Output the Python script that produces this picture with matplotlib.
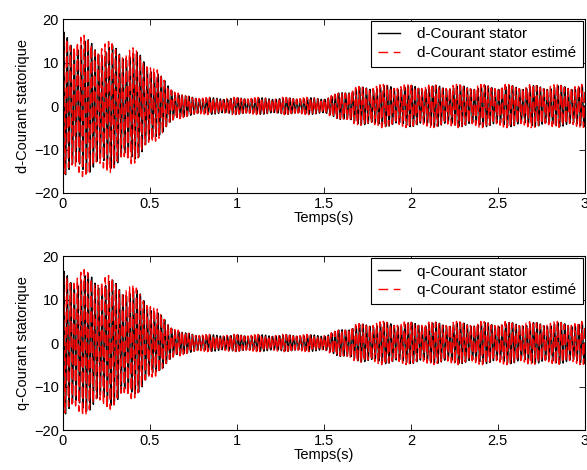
"""
Courants statoriques d-q : mesure et estimation (0 - 3 s).
"""

import matplotlib
matplotlib.use("Agg")
import matplotlib.pyplot as plt
import numpy as np

# Enveloppes (temps en s, amplitude crete en A)
env_time = [0.0, 0.05, 0.1, 0.2, 0.3, 0.4, 0.45, 0.5, 0.55, 0.6, 0.65,
            0.7, 0.8, 1.5, 1.55, 1.6, 1.7, 1.8, 3.0]
d_env_upper = [18.0, 17.0, 16.5, 15.5, 14.5, 13.5, 12.5, 10.5, 8.0, 5.5,
               3.5, 2.5, 2.0, 2.0, 2.5, 3.5, 4.5, 5.0, 5.0]
d_env_lower = [-17.0, -17.0, -16.5, -16.0, -15.0, -13.5, -12.0, -10.0, -7.5,
               -5.0, -3.5, -2.5, -2.0, -2.0, -2.5, -3.5, -4.5, -5.0, -5.0]
q_env_upper = [17.5, 17.0, 17.0, 16.5, 15.0, 13.5, 12.0, 10.0, 7.5, 5.0,
               3.5, 2.5, 2.0, 2.0, 2.5, 3.5, 4.5, 5.0, 5.0]
q_env_lower = [-17.5, -17.5, -17.0, -16.0, -15.0, -13.0, -11.5, -9.5, -7.0,
               -5.0, -3.5, -2.5, -2.0, -2.0, -2.5, -3.5, -4.5, -5.0, -5.0]

f_carrier = 50.0        # frequence statorique (Hz)
f_side = 57.0           # composante secondaire (battement)
side_ratio = 0.1        # part de la composante secondaire
est_phase = 0.9         # decalage de l'estimation (rad)
meas_scale = 0.95       # la mesure reste un peu sous l'estimation
dt = 1e-3               # pas d'echantillonnage de la simulation (s)

panels = [
    ("d", d_env_upper, d_env_lower),
    ("q", q_env_upper, q_env_lower),
]

x_ticks = [0, 0.5, 1, 1.5, 2, 2.5, 3]
y_ticks = [-20, -10, 0, 10, 20]

plt.rcParams["font.family"] = ["Liberation Sans", "DejaVu Sans"]
plt.rcParams["font.size"] = 10.5

t = np.arange(0.0, 3.0 + dt / 2, dt)

fig = plt.figure(figsize=(5.87, 4.70), dpi=100)
boxes = [[0.1073, 0.5894, 0.889, 0.370], [0.1073, 0.0851, 0.889, 0.370]]

for box, (axis_name, upper, lower) in zip(boxes, panels):
    ax = fig.add_axes(box)
    hi = np.interp(t, env_time, upper)
    lo = np.interp(t, env_time, lower)
    mid = 0.5 * (hi + lo)
    amp = 0.5 * (hi - lo)

    def wave(phase):
        main = (1 - side_ratio) * np.sin(2 * np.pi * f_carrier * t + phase)
        side = side_ratio * np.sin(2 * np.pi * f_side * t + 2 * phase)
        return main + side

    meas = mid + meas_scale * amp * wave(0.0)
    est = mid + amp * wave(est_phase)

    ax.plot(t, meas, color="black", lw=1.0, label=f"{axis_name}-Courant stator")
    ax.plot(t, est, color="red", lw=1.0, ls="--", dashes=(8, 3),
            label=f"{axis_name}-Courant stator estimé")

    ax.set_xlim(0, 3)
    ax.set_ylim(-20, 20)
    ax.set_xticks(x_ticks)
    ax.set_xticklabels(["0", "0.5", "1", "1.5", "2", "2.5", "3"])
    ax.set_yticks(y_ticks)
    ax.tick_params(direction="in", top=True, right=True, length=4,
                   width=0.6, labelsize=10.5, pad=3)
    for spine in ax.spines.values():
        spine.set_linewidth(0.8)
    ax.set_xlabel("Temps(s)", fontsize=10.5, labelpad=0)
    ax.set_ylabel(f"{axis_name}-Courant statorique", fontsize=10.5, labelpad=3)

    leg = ax.legend(loc="upper right", fontsize=11, fancybox=False,
                    framealpha=1, edgecolor="black", borderaxespad=0.1,
                    handlelength=1.5, handletextpad=1.1, borderpad=0.45,
                    labelspacing=0.3)
    leg.get_frame().set_linewidth(0.8)
    leg.get_lines()[1].set_dashes((7, 4))

fig.savefig("out.png", dpi=100)
plt.close(fig)
